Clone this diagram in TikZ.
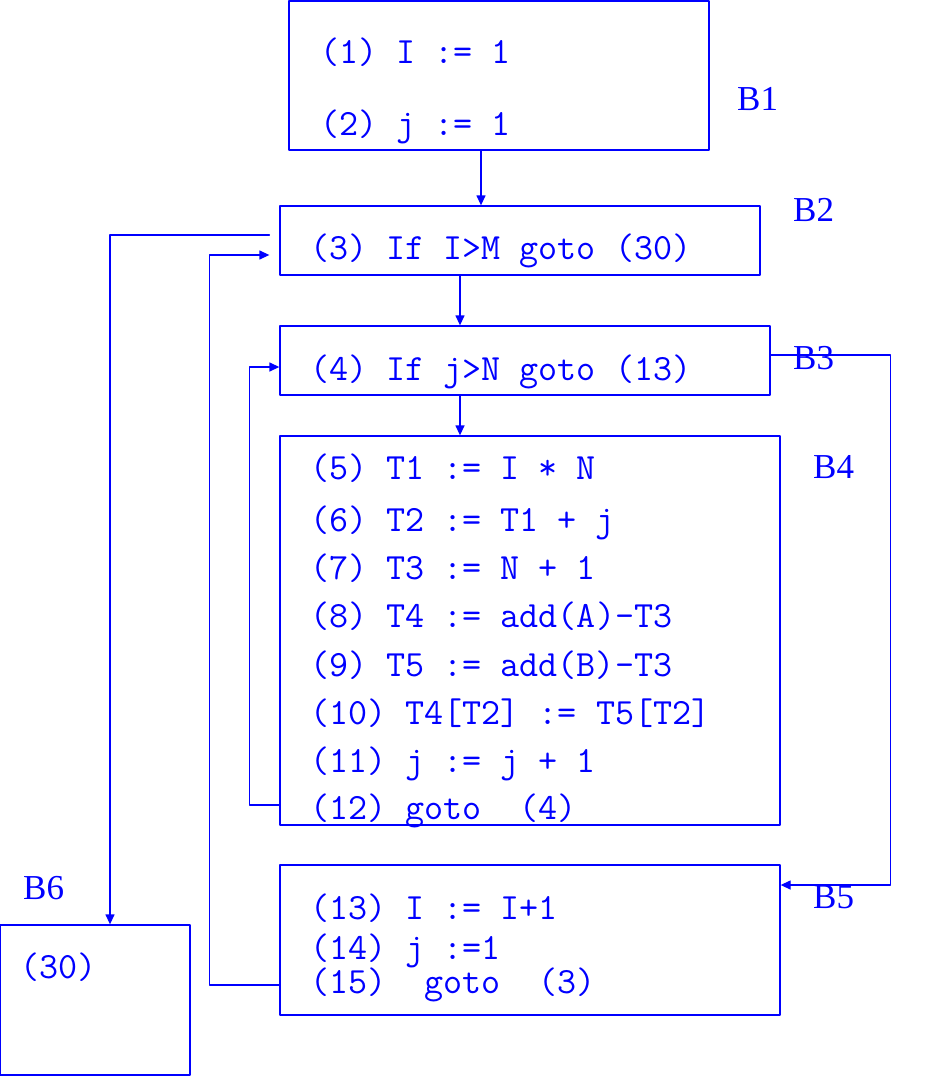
\documentclass[tikz,border=0pt]{standalone}
\usepackage{fontspec}
\setmainfont{Liberation Serif}
\usepackage{tikz}
\usetikzlibrary{arrows.meta}

\begin{document}
\begin{tikzpicture}[
			x=1pt, y=-1pt,
			line cap=round,
			line join=round,
			blk/.style={draw=blue, line width=1.3pt, inner sep=0pt, anchor=center},
			code/.style={text=blue, anchor=base west, inner sep=0pt, font=\ttfamily\fontsize{37}{44}\selectfont},
			lbl/.style={text=blue, anchor=base west, inner sep=0pt, font=\fontsize{35}{42}\selectfont},
			arr/.style={draw=blue, line width=1.3pt, -{Triangle[length=10pt,width=9pt]}}
			]
			\useasboundingbox (0,0) rectangle (931,1077);
			
			% basic blocks
			\node[blk, minimum width=420pt, minimum height=149pt] (b1) at (499,75.5) {};
			\node[blk, minimum width=480pt, minimum height=69pt] (b2) at (520,240.5) {};
			\node[blk, minimum width=490pt, minimum height=69pt] (b3) at (525,360.5) {};
			\node[blk, minimum width=500pt, minimum height=389pt] (b4) at (530,630.5) {};
			\node[blk, minimum width=500pt, minimum height=150pt] (b5) at (530,940) {};
			\node[blk, minimum width=190pt, minimum height=150pt] (b6) at (95,1000) {};
			
			% block names
			\node[lbl] (n1) at (737,110) {B1};
			\node[lbl] (n2) at (793,221) {B2};
			\node[lbl] (n3) at (793,369) {B3};
			\node[lbl] (n4) at (813,478) {B4};
			\node[lbl] (n5) at (813,908) {B5};
			\node[lbl] (n6) at (23,899) {B6};
			
			% code lines
			\node[code] (l1) at (320,63) {(1) I := 1};
			\node[code] (l2) at (320,135) {(2) j := 1};
			\node[code] (l3) at (310,259) {(3) If I>M goto (30)};
			\node[code] (l4) at (310,380) {(4) If j>N goto (13)};
			\node[code] (l5) at (310,479) {(5) T1 := I * N};
			\node[code] (l6) at (310,531) {(6) T2 := T1 + j};
			\node[code] (l7) at (310,579) {(7) T3 := N + 1};
			\node[code] (l8) at (310,627) {(8) T4 := add(A)-T3};
			\node[code] (l9) at (310,676) {(9) T5 := add(B)-T3};
			\node[code] (l10) at (310,724) {(10) T4[T2] := T5[T2]};
			\node[code] (l11) at (310,772) {(11) j := j + 1};
			\node[code] (l12) at (310,819) {(12) goto~ (4)};
			\node[code] (l13) at (310,919) {(13) I := I+1};
			\node[code] (l14) at (310,959) {(14) j :=1};
			\node[code] (l15) at (310,993) {(15)~ goto~ (3)};
			\node[code] (l30) at (20,978) {(30)};
			
			% flow
			\draw[arr] ([xshift=-18pt]b1.south) -- ([xshift=-39pt]b2.north);
			\draw[arr] ([xshift=-60pt]b2.south) -- ([xshift=-65pt]b3.north);
			\draw[arr] ([xshift=-65pt]b3.south) -- ([xshift=-70pt]b4.north);
			\draw[arr] ([xshift=-10pt,yshift=5.5pt]b2.west) -| ([xshift=15pt]b6.north);
			\draw[arr] ([yshift=-45pt]b5.west) -- ++(-70,0) |- ([xshift=-10pt,yshift=-14.5pt]b2.west);
			\draw[arr] ([yshift=-174.5pt]b4.west) -- ++(-30,0) |- ([yshift=-6.5pt]b3.west);
			\draw[arr] ([yshift=5.5pt]b3.east) -- ++(120,0) |- ([yshift=55pt]b5.east);
		\end{tikzpicture}
\end{document}
